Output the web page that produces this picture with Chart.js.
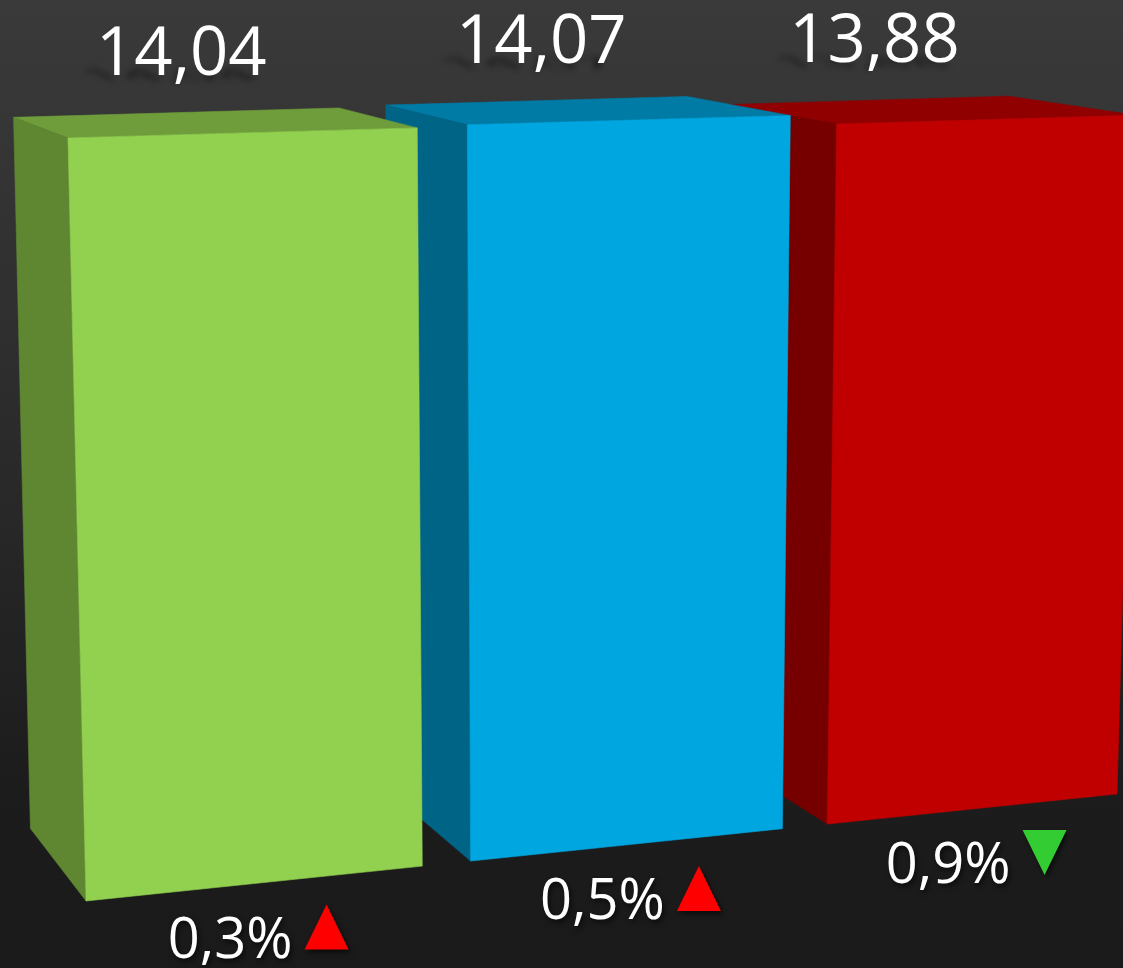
<!DOCTYPE html>
<html>
<head>
<meta charset="utf-8">
<title>Chart</title>
<script src="https://cdn.jsdelivr.net/npm/chart.js@4.4.0/dist/chart.umd.min.js"></script>
<style>
  html, body { margin: 0; padding: 0; background: #1b1b1b; overflow: hidden; }
  #chart { display: block; }
</style>
</head>
<body>
<canvas id="chart" width="1123" height="968"></canvas>
<script>
var categories = ['A', 'B', 'C'];
var values = [14.04, 14.07, 13.88];
var changes = [0.3, 0.5, 0.9];
var trends = ['up', 'up', 'down'];

var frontColors = ['#92d050', '#00a6df', '#c00000'];
var topColors = ['#6f9d3b', '#007ba6', '#900000'];
var sideColors = ['#5f8732', '#006487', '#760000'];
var trendColors = { up: '#ff0000', down: '#33cc33' };

// camera: where the corners of the plot area land on screen
var viewQuad = { bl: [60, 903.7], br: [1138, 791.8], tr: [1159.2, 57.9], tl: [39.5, 84.3] };
var vanish = [-732, -165];
var depth = 0.068;

function fmt(v, d) {
  return v.toFixed(d).replace('.', ',');
}

// unit square -> quad (projective)
function makeProjection(q) {
  var x0 = q.bl[0], y0 = q.bl[1], x1 = q.br[0], y1 = q.br[1];
  var x2 = q.tr[0], y2 = q.tr[1], x3 = q.tl[0], y3 = q.tl[1];
  var dx1 = x1 - x2, dx2 = x3 - x2, dx3 = x0 - x1 + x2 - x3;
  var dy1 = y1 - y2, dy2 = y3 - y2, dy3 = y0 - y1 + y2 - y3;
  var den = dx1 * dy2 - dx2 * dy1;
  var g = (dx3 * dy2 - dx2 * dy3) / den;
  var h = (dx1 * dy3 - dx3 * dy1) / den;
  var a = x1 - x0 + g * x1, b = x3 - x0 + h * x3, c = x0;
  var d = y1 - y0 + g * y1, e = y3 - y0 + h * y3, f = y0;
  return function(u, v) {
    var w = g * u + h * v + 1;
    return [(a * u + b * v + c) / w, (d * u + e * v + f) / w];
  };
}

function poly(ctx, pts, color) {
  ctx.beginPath();
  ctx.moveTo(pts[0][0], pts[0][1]);
  for (var i = 1; i < pts.length; i++) ctx.lineTo(pts[i][0], pts[i][1]);
  ctx.closePath();
  ctx.fillStyle = color;
  ctx.strokeStyle = color;
  ctx.lineWidth = 0.6;
  ctx.fill();
  ctx.stroke();
}

function drawValue(ctx, text, cx, baseline) {
  ctx.save();
  ctx.font = '67px "Open Sans"';
  ctx.textAlign = 'center';
  ctx.textBaseline = 'alphabetic';
  // flattened shadow lying under the digits
  ctx.save();
  ctx.filter = 'blur(3px)';
  ctx.fillStyle = 'rgba(0,0,0,0.6)';
  ctx.setTransform(1, 0, 0.4, 0.22, cx - 4, baseline + 5);
  ctx.fillText(text, 0, 0);
  ctx.restore();
  ctx.fillStyle = '#ffffff';
  ctx.fillText(text, cx, baseline);
  ctx.restore();
}

function drawChange(ctx, text, trend, cx, baseline) {
  ctx.save();
  ctx.font = '56px "Open Sans"';
  ctx.textAlign = 'left';
  ctx.textBaseline = 'alphabetic';
  var tw = ctx.measureText(text).width;
  var triW = 44, gap = 12;
  var x = cx - (tw + gap + triW) / 2;
  ctx.shadowColor = 'rgba(0,0,0,0.6)';
  ctx.shadowBlur = 5;
  ctx.shadowOffsetX = 2;
  ctx.shadowOffsetY = 3;
  ctx.fillStyle = '#ffffff';
  ctx.fillText(text, x, baseline);
  var tx = x + tw + gap;
  var top = baseline - 53, bot = baseline - 8;
  ctx.beginPath();
  if (trend === 'up') {
    ctx.moveTo(tx + triW / 2, top);
    ctx.lineTo(tx + triW, bot);
    ctx.lineTo(tx, bot);
  } else {
    ctx.moveTo(tx, top);
    ctx.lineTo(tx + triW, top);
    ctx.lineTo(tx + triW / 2, bot);
  }
  ctx.closePath();
  ctx.fillStyle = trendColors[trend];
  ctx.fill();
  ctx.restore();
}

var bars3d = {
  id: 'bars3d',
  beforeDraw: function(chart) {
    var ctx = chart.ctx;
    var grad = ctx.createLinearGradient(0, 0, 0, chart.height);
    grad.addColorStop(0, '#3a3a3a');
    grad.addColorStop(0.45, '#2b2b2b');
    grad.addColorStop(0.82, '#1c1c1c');
    grad.addColorStop(1, '#1a1a1a');
    ctx.save();
    ctx.fillStyle = grad;
    ctx.fillRect(0, 0, chart.width, chart.height);
    ctx.restore();
  },
  afterDatasetsDraw: function(chart) {
    var ctx = chart.ctx;
    var area = chart.chartArea;
    var meta = chart.getDatasetMeta(0);
    var project = makeProjection(viewQuad);
    function P(px, py) {
      return project((px - area.left) / (area.right - area.left),
                     (area.bottom - py) / (area.bottom - area.top));
    }
    function back(p) {
      return [p[0] + depth * (vanish[0] - p[0]), p[1] + depth * (vanish[1] - p[1])];
    }
    var boxes = [];
    meta.data.forEach(function(el, i) {
      var p = el.getProps(['x', 'y', 'base', 'width'], true);
      var half = p.width / 2;
      var ftl = P(p.x - half, p.y), ftr = P(p.x + half, p.y);
      var fbl = P(p.x - half, p.base), fbr = P(p.x + half, p.base);
      boxes[i] = { ftl: ftl, ftr: ftr, fbl: fbl, fbr: fbr, btl: back(ftl), btr: back(ftr), bbl: back(fbl) };
    });
    // the nearer bars (left) cover the farther ones
    ctx.save();
    for (var i = boxes.length - 1; i >= 0; i--) {
      var b = boxes[i];
      poly(ctx, [b.ftl, b.ftr, b.btr, b.btl], topColors[i]);
      poly(ctx, [b.ftl, b.fbl, b.bbl, b.btl], sideColors[i]);
      poly(ctx, [b.ftl, b.ftr, b.fbr, b.fbl], frontColors[i]);
    }
    ctx.restore();

    boxes.forEach(function(b, i) {
      var topX = (b.btl[0] + b.btr[0]) / 2 + 5;
      var topY = (b.btl[1] + b.btr[1]) / 2 - 38;
      drawValue(ctx, fmt(values[i], 2), topX, topY);
      var botX = (b.fbl[0] + b.fbr[0]) / 2 + 4;
      var botY = (b.fbl[1] + b.fbr[1]) / 2 + 74;
      drawChange(ctx, fmt(changes[i], 1) + '%', trends[i], botX, botY);
    });
  }
};

new Chart(document.getElementById('chart'), {
  type: 'bar',
  data: {
    labels: categories,
    datasets: [{
      data: values,
      backgroundColor: 'rgba(0,0,0,0)',
      borderWidth: 0,
      barPercentage: 0.87,
      categoryPercentage: 1
    }]
  },
  options: {
    responsive: false,
    animation: false,
    layout: { padding: 0 },
    plugins: {
      legend: { display: false },
      tooltip: { enabled: false }
    },
    scales: {
      x: { display: false },
      y: { display: false, min: 0, max: 15 }
    }
  },
  plugins: [bars3d]
});
</script>
</body>
</html>
